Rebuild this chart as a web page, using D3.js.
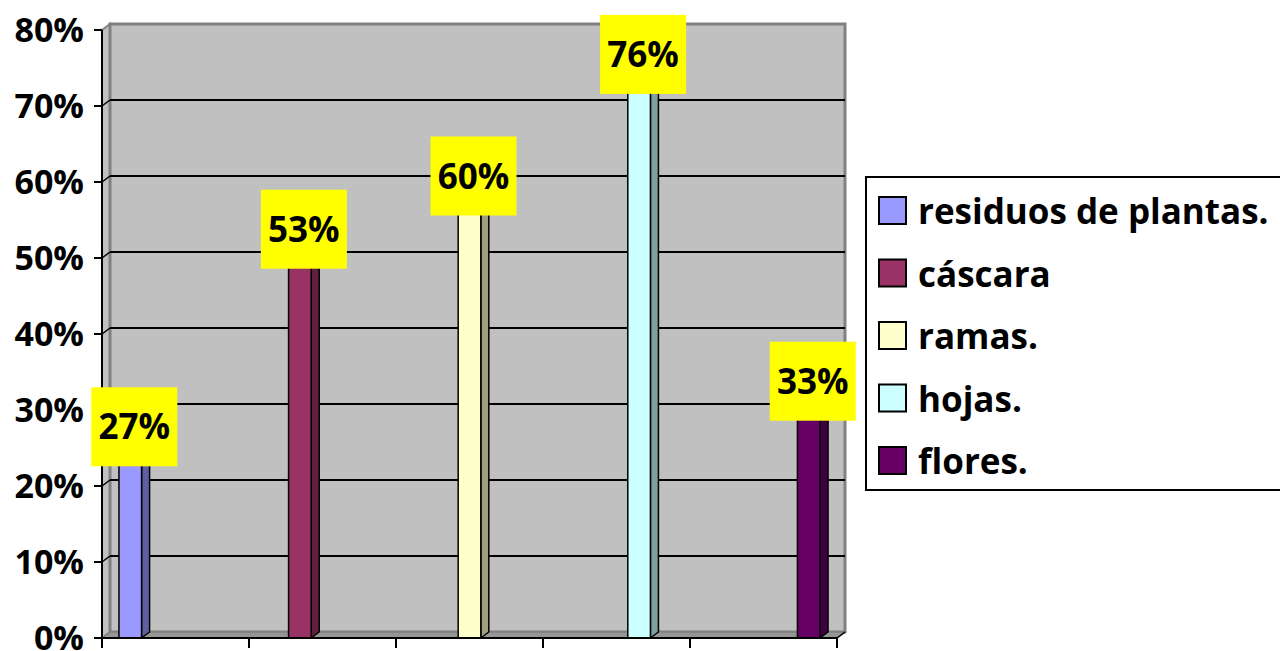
<!DOCTYPE html>
<html>
<head>
<meta charset="utf-8">
<script src="https://cdn.jsdelivr.net/npm/d3@7"></script>
<style>
  body { margin: 0; background: #fff; }
  svg { display: block; font-family: "Open Sans", Lato, sans-serif; font-weight: 700; }
</style>
</head>
<body>
<svg id="chart" width="1280" height="651"></svg>
<script>
// one category per series, each series only has a value in its own slot
const categories = ['1', '2', '3', '4', '5'];
const series = ['residuos de plantas.', 'cáscara', 'ramas.', 'hojas.', 'flores.'];
const values = [0.27, 0.53, 0.60, 0.76, 0.33];
const colors = ['#9999ff', '#993366', '#ffffcc', '#ccffff', '#660066'];
const yTicks = [0, 0.1, 0.2, 0.3, 0.4, 0.5, 0.6, 0.7, 0.8];

const svg = d3.select('#chart');
const dx = 8, dy = -6; // 3d depth

const x = d3.scaleBand().domain(categories).range([102, 837]);
const xs = d3.scaleBand().domain(series).range([0, x.bandwidth()]).paddingOuter(0.75);
const y = d3.scaleLinear().domain([0, 0.8]).range([638, 30]);
const fmt = d3.format('.0%');

const x0 = x.range()[0], x1 = x.range()[1];
const yb = y(0), yt = y(0.8);

// side wall
svg.append('polygon')
    .attr('points', [[x0, yt], [x0 + dx, yt + dy], [x0 + dx, yb + dy], [x0, yb]].join(' '))
    .attr('fill', '#c0c0c0')
    .attr('stroke', '#808080')
    .attr('stroke-width', 2);

// back wall
svg.append('rect')
    .attr('x', x0 + dx)
    .attr('y', yt + dy)
    .attr('width', x1 - x0)
    .attr('height', yb - yt)
    .attr('fill', '#c0c0c0')
    .attr('stroke', '#808080')
    .attr('stroke-width', 3);

// floor
svg.append('polygon')
    .attr('points', [[x0, yb], [x0 + dx, yb + dy], [x1 + dx, yb + dy], [x1, yb]].join(' '))
    .attr('fill', '#969696')
    .attr('stroke', '#808080')
    .attr('stroke-width', 1.5);

// gridlines on the back wall + diagonal on side wall
const grid = svg.append('g');
yTicks.filter(t => t > 0 && t < 0.8).forEach(t => {
    grid.append('line')
        .attr('x1', x0 + dx).attr('x2', x1 + dx)
        .attr('y1', y(t) + dy).attr('y2', y(t) + dy)
        .attr('stroke', '#000').attr('stroke-width', 2);
    grid.append('line')
        .attr('x1', x0).attr('x2', x0 + dx)
        .attr('y1', y(t)).attr('y2', y(t) + dy)
        .attr('stroke', '#000').attr('stroke-width', 1.5);
});
// floor corner diagonal
svg.append('line')
    .attr('x1', x1).attr('y1', yb).attr('x2', x1 + dx).attr('y2', yb + dy)
    .attr('stroke', '#000').attr('stroke-width', 1.5);

// bars
const bars = svg.append('g').selectAll('g')
    .data(series)
    .enter()
    .append('g');

bars.each(function(s, i) {
    const g = d3.select(this);
    const bx = x(categories[i]) + xs(s);
    const bw = xs.bandwidth();
    const top = y(values[i]);
    const dark = d3.color(colors[i]).darker(1.3);
    const mid = d3.color(colors[i]).darker(0.6);
    // side face
    g.append('polygon')
        .attr('points', [[bx + bw, top], [bx + bw + dx, top + dy], [bx + bw + dx, yb + dy], [bx + bw, yb]].join(' '))
        .attr('fill', dark)
        .attr('stroke', '#000').attr('stroke-width', 1.5).attr('stroke-linejoin', 'round');
    // top face
    g.append('polygon')
        .attr('points', [[bx, top], [bx + dx, top + dy], [bx + bw + dx, top + dy], [bx + bw, top]].join(' '))
        .attr('fill', mid)
        .attr('stroke', '#000').attr('stroke-width', 1.5).attr('stroke-linejoin', 'round');
    // front face
    g.append('rect')
        .attr('x', bx).attr('y', top)
        .attr('width', bw).attr('height', yb - top)
        .attr('fill', colors[i])
        .attr('stroke', '#000').attr('stroke-width', 1.5);
});

// y axis
svg.append('line')
    .attr('x1', x0).attr('x2', x0).attr('y1', yt).attr('y2', yb)
    .attr('stroke', '#000').attr('stroke-width', 2);
const yAxis = svg.append('g');
yTicks.forEach(t => {
    yAxis.append('line')
        .attr('x1', x0 - 8).attr('x2', x0)
        .attr('y1', y(t)).attr('y2', y(t))
        .attr('stroke', '#000').attr('stroke-width', 2);
    yAxis.append('text')
        .attr('x', x0 - 18)
        .attr('y', y(t))
        .attr('dy', '0.36em')
        .attr('text-anchor', 'end')
        .attr('font-size', 34)
        .text(fmt(t));
});

// x axis
svg.append('line')
    .attr('x1', x0).attr('x2', x1).attr('y1', yb).attr('y2', yb)
    .attr('stroke', '#000').attr('stroke-width', 2);
categories.concat(['end']).forEach((c, i) => {
    const tx = i < categories.length ? x(c) : x1;
    svg.append('line')
        .attr('x1', tx).attr('x2', tx).attr('y1', yb).attr('y2', yb + 10)
        .attr('stroke', '#000').attr('stroke-width', 2);
});

// data labels
const labels = svg.append('g');
series.forEach((s, i) => {
    const cx = x(categories[i]) + xs(s) + (xs.bandwidth() + dx) / 2;
    const cy = y(values[i]) + dy;
    const lw = 86, lh = 79;
    labels.append('rect')
        .attr('x', cx - lw / 2).attr('y', cy - lh / 2)
        .attr('width', lw).attr('height', lh)
        .attr('fill', '#ffff00');
    labels.append('text')
        .attr('x', cx).attr('y', cy)
        .attr('dy', '0.36em')
        .attr('text-anchor', 'middle')
        .attr('font-size', 35)
        .text(fmt(values[i]));
});

// legend
const legend = svg.append('g');
legend.append('rect')
    .attr('x', 866).attr('y', 177)
    .attr('width', 430).attr('height', 313)
    .attr('fill', '#fff')
    .attr('stroke', '#000').attr('stroke-width', 2);
series.forEach((s, i) => {
    const ly = 197 + i * 62.5;
    legend.append('rect')
        .attr('x', 879).attr('y', ly)
        .attr('width', 27).attr('height', 27)
        .attr('fill', colors[i])
        .attr('stroke', '#000').attr('stroke-width', 2);
    legend.append('text')
        .attr('x', 918).attr('y', ly + 27)
        .attr('font-size', 35)
        .text(s);
});
</script>
</body>
</html>
